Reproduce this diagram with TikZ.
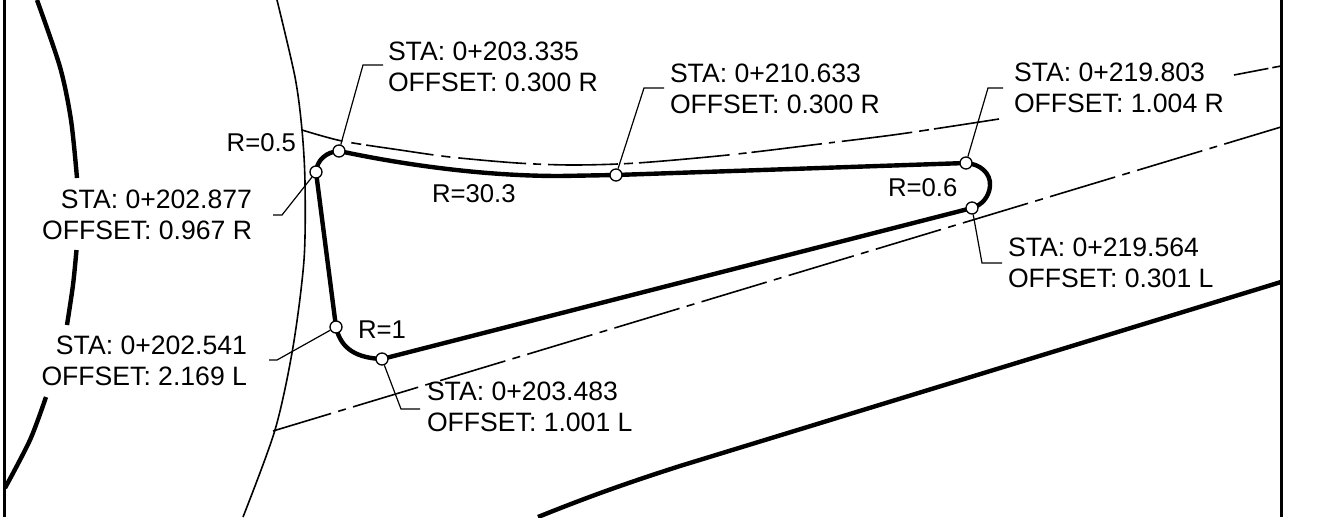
\documentclass[tikz,border=0pt]{standalone}
\usepackage{fontspec}
\setmainfont{Liberation Sans}
\tikzset{
  x=1pt,y=-1pt,
  thickline/.style={line width=4.4pt,black},
  thinline/.style={line width=1.6pt,black},
  centerline/.style={line width=1.6pt,black,dash pattern=on 68pt off 7.5pt on 8pt off 7.5pt,dash phase=7.4pt},
  centertop/.style={line width=1.6pt,black,dash pattern=on 42pt off 9pt on 10pt off 5pt on 68pt off 8pt on 9pt off 8pt on 68pt off 7pt on 8pt off 7pt on 70pt off 6pt on 9pt off 6pt on 91pt off 9pt on 8pt off 5pt on 71pt off 7pt on 6pt off 7pt on 71pt off 7pt on 10pt off 5pt on 90pt off 5pt},
  centerend/.style={line width=1.6pt,black,dash pattern=on 35pt off 4pt on 20pt off 4pt},
  leader/.style={line width=1.2pt,black},
  frameline/.style={line width=2.6pt,black},
  pt/.style={circle,draw=black,fill=white,line width=1.3pt,minimum size=12pt,inner sep=0pt},
  lab/.style={inner sep=0pt,outer sep=0pt,align=left,anchor=south west,font=\fontsize{26.6}{31.5}\selectfont,text=black},
  labr/.style={lab,align=right,anchor=south east},
  rlab/.style={lab,font=\fontsize{25.7}{31.5}\selectfont},
  rlabr/.style={labr,font=\fontsize{25.7}{31.5}\selectfont},
}
\begin{document}
\begin{tikzpicture}
\useasboundingbox (0,0) rectangle (1336,517);
\fill[white] (0,0) rectangle (1336,517);
% frame
\draw[frameline] (4.5,0) -- (4.5,517);
\draw[frameline] (1281.5,0) -- (1281.5,517);
% outer thick curve
\draw[thickline] plot[smooth] coordinates {(37,0) (60,67) (71,120) (77,178)};
\draw[thickline] plot[smooth] coordinates {(76.5,250) (73,285) (67,325)};
\draw[thickline] plot[smooth] coordinates {(46,397) (30,440) (5,488)};
% thin curve
\draw[thinline] plot[smooth] coordinates {(277,0) (295,77) (302,130) (305,183) (304,260) (293,347) (275,430) (243,517)};
% centre lines
\draw[centertop] plot[smooth] coordinates {(302,130) (342,141) (400,150) (450,157) (517,163) (573,165) (637,163) (728,155) (820,144) (900,134) (999,119)};
\draw[centerend] (1234,75) -- (1281,66);
\draw[centerline] (273,431) -- (1281,127);
% lower thick line
\draw[thickline] (538,517) .. controls (590,496) and (630,482) .. (680,466) -- (1281,282);
% island
\coordinate (k) at (560,176);
\path (339,151) coordinate (a1) (316,172) coordinate (a2) (336,327) coordinate (a3)
      (382,359) coordinate (a4) (972,208) coordinate (a5) (966,163) coordinate (a6) (616,175) coordinate (a7);
\draw[thickline,line join=round]
  (a1) .. controls (400,164) and (480,176) .. (k) -- (a7) -- (a6)
  .. controls (980,164) and (991,173) .. (990,186)
  .. controls (989,197) and (982,205) .. (a5)
  -- (a4)
  .. controls (358,358) and (341,350) .. (a3)
  -- (a2)
  .. controls (317,160) and (326,152) .. (a1);
% label texts
\node[lab] (t1) at (388,92) {STA: 0+203.335\\OFFSET: 0.300 R};
\node[lab] (t7) at (670,114) {STA: 0+210.633\\OFFSET: 0.300 R};
\node[lab] (t6) at (1014,113) {STA: 0+219.803\\OFFSET: 1.004 R};
\node[lab] (t5) at (1008,288) {STA: 0+219.564\\OFFSET: 0.301 L};
\node[lab] (t4) at (427,432) {STA: 0+203.483\\OFFSET: 1.001 L};
\node[labr] (t2) at (252,240) {STA: 0+202.877\\OFFSET: 0.967 R};
\node[labr] (t3) at (247,386) {STA: 0+202.541\\OFFSET: 2.169 L};
\node[rlabr] (r1) at (296,152) {R=0.5};
\node[rlab] (r2) at (432,203) {R=30.3};
\node[rlab] (r3) at (888,197) {R=0.6};
\node[rlab] (r4) at (358,338) {R=1};
% leader elbows
\coordinate (e1) at (363,65); \coordinate (f1) at (383,65);
\coordinate (e2) at (282,215); \coordinate (f2) at (273,215);
\coordinate (e3) at (277,360); \coordinate (f3) at (269,360);
\coordinate (e4) at (401,409); \coordinate (f4) at (420,409);
\coordinate (e5) at (982,263); \coordinate (f5) at (1002,263);
\coordinate (e6) at (988,88); \coordinate (f6) at (1003,88);
\coordinate (e7) at (644,88); \coordinate (f7) at (664,88);
% point markers
\node[pt] (p1) at (a1) {};
\node[pt] (p2) at (a2) {};
\node[pt] (p3) at (a3) {};
\node[pt] (p4) at (a4) {};
\node[pt] (p5) at (a5) {};
\node[pt] (p6) at (a6) {};
\node[pt] (p7) at (a7) {};
% leaders
\draw[leader] (p1) -- (e1) -- (f1);
\draw[leader] (p2) -- (e2) -- (f2);
\draw[leader] (p3) -- (e3) -- (f3);
\draw[leader] (p4) -- (e4) -- (f4);
\draw[leader] (p5) -- (e5) -- (f5);
\draw[leader] (p6) -- (e6) -- (f6);
\draw[leader] (p7) -- (e7) -- (f7);
\end{tikzpicture}
\end{document}
